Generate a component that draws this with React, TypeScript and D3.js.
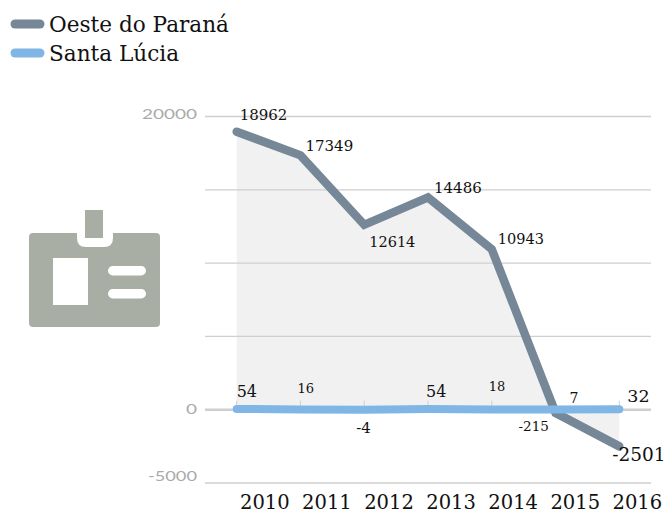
import React, { useMemo } from "react";
import * as d3 from "d3";

const years = ["2010", "2011", "2012", "2013", "2014", "2015", "2016"];
const oeste = [18962, 17349, 12614, 14486, 10943, -215, -2501];
const santa = [54, 16, -4, 54, 18, 7, 32];
const yTicks = [-5000, 0, 5000, 10000, 15000, 20000];
const yLabels: Record<number, string> = { [-5000]: "-5000", 0: "0", 20000: "20000" };
const legendNames = ["Oeste do Paraná", "Santa Lúcia"];
const GREY = "#768797";
const BLUE = "#7fb6e6";
const SERIF = "'DejaVu Serif', serif";
const SANS = "Lato, sans-serif";

// per-label offsets from the point [dx, dy, size]
const oesteOff = [[3, -12, 15], [5, -4, 15], [5, 22, 14.5], [6, -4, 15], [6, -5, 14.5], [-37, 18, 13.5], [-7, 15, 18.5]];
const santaOff = [[0, -12, 16], [-3, -16, 13], [-8, 23, 15], [-2, -12, 16], [-3, -18, 13], [14, -7, 14], [8, -7, 17.5]];
const yLabelStyle: Record<number, { dy: number; w: number }> = {
  [-5000]: { dy: -2, w: 49 },
  0: { dy: 4, w: 11 },
  20000: { dy: 2.5, w: 55 },
};

export default function App() {
  const x = useMemo(() => d3.scalePoint<string>().domain(years).range([236.7, 619.3]), []);
  const xLabel = useMemo(() => d3.scalePoint<string>().domain(years).range([240, 612.5]), []);
  const y = useMemo(() => d3.scaleLinear().domain([-5000, 20000]).range([483, 116.5]), []);
  const line = d3.line<number>().x((_, i) => x(years[i])!).y((d) => y(d));
  const area = d3.area<number>().x((_, i) => x(years[i])!).y0(y(0)).y1((d) => y(d));
  return (
    <svg width={668} height={513} style={{ position: "absolute", left: 0, top: 0 }}>
      {legendNames.map((n, i) => (
        <g key={n}>
          <line x1={15} x2={40} y1={24 + i * 29} y2={24 + i * 29} stroke={i ? BLUE : GREY} strokeWidth={9} strokeLinecap="round" />
          <text x={49} y={32 + i * 29} fontFamily={SERIF} fontSize={21.6} fill="#111">{n}</text>
        </g>
      ))}
      <g fill="#a9aea5">
        <rect x={85} y={210} width={18} height={28} />
        <path d="M33 233H77V238Q77 247 86 247H104Q113 247 113 238V233H156Q160 233 160 237V323Q160 327 156 327H33Q29 327 29 323V237Q29 233 33 233Z" />
      </g>
      <rect x={53} y={258} width={35} height={47} fill="#fff" />
      <rect x={108} y={266} width={38} height={9.5} rx={4.75} fill="#fff" />
      <rect x={108} y={289} width={38} height={9.5} rx={4.75} fill="#fff" />
      <path d={area(oeste)!} fill="#f1f1f1" />
      {yTicks.map((t) => (
        <line key={t} x1={205} x2={651} y1={y(t)} y2={y(t)} stroke="#cfcfcf" strokeWidth={t === 0 ? 2.5 : 1.3} />
      ))}
      {years.map((yr) => (
        <line key={yr} x1={x(yr)} x2={x(yr)} y1={y(0) - 9} y2={y(0)} stroke="#cfcfcf" strokeWidth={1} />
      ))}
      {yTicks.filter((t) => yLabels[t]).map((t) => (
        <text key={t} x={197 - yLabelStyle[t].w} y={y(t) + yLabelStyle[t].dy} fontFamily={SANS} fontSize={13} fill="#aaa" textLength={yLabelStyle[t].w} lengthAdjust="spacingAndGlyphs">{yLabels[t]}</text>
      ))}
      <path d={line(oeste)!} fill="none" stroke={GREY} strokeWidth={8.5} strokeLinecap="round" />
      <path d={line(santa)!} fill="none" stroke={BLUE} strokeWidth={8} strokeLinecap="round" />
      {oeste.map((v, i) => (
        <text key={i} x={x(years[i])! + oesteOff[i][0]} y={y(v) + oesteOff[i][1]} fontFamily={SERIF} fontSize={oesteOff[i][2]} fill="#111">{v}</text>
      ))}
      {santa.map((v, i) => (
        <text key={i} x={x(years[i])! + santaOff[i][0]} y={y(v) + santaOff[i][1]} fontFamily={SERIF} fontSize={santaOff[i][2]} fill="#111">{v}</text>
      ))}
      {years.map((yr) => (
        <text key={yr} x={xLabel(yr)} y={509} fontFamily={SERIF} fontSize={19.5} fill="#111">{yr}</text>
      ))}
    </svg>
  );
}
